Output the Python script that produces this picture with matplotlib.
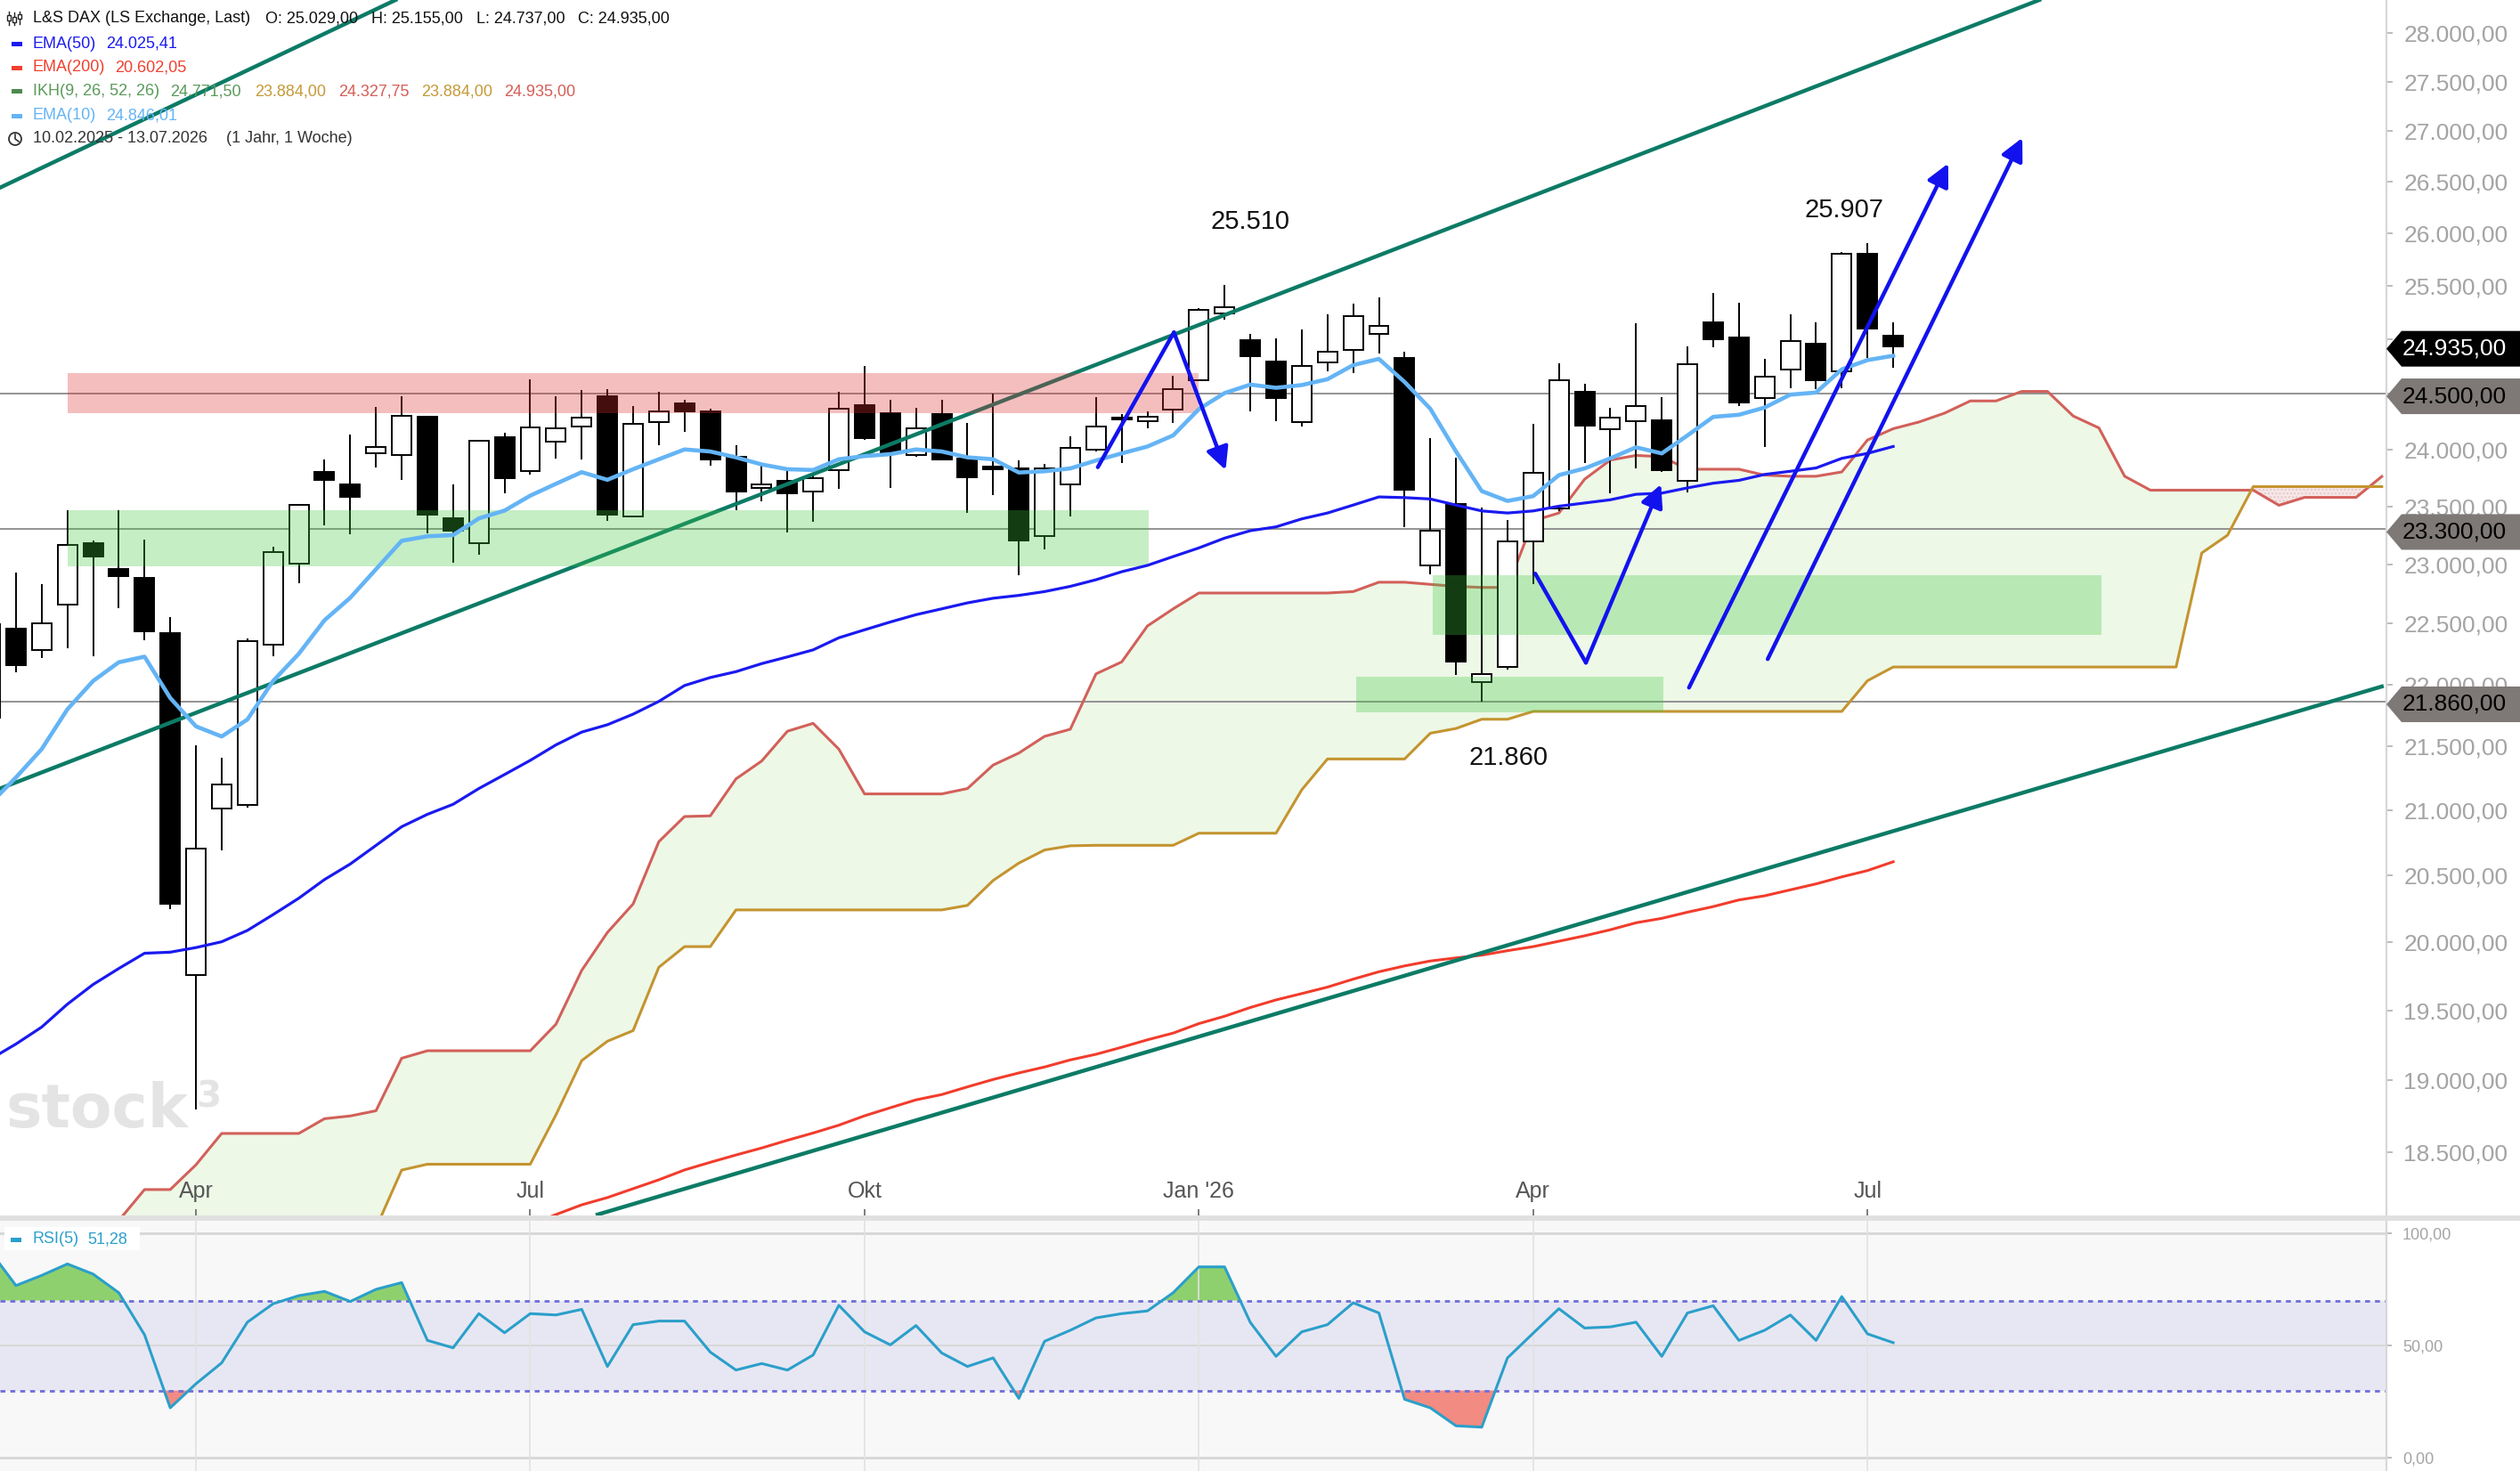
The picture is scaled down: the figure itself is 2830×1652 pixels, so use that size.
import numpy as np
import matplotlib
matplotlib.use('Agg')
import matplotlib.pyplot as plt
from matplotlib.patches import Rectangle, Polygon, Circle
from matplotlib.lines import Line2D
from matplotlib.transforms import IdentityTransform
from matplotlib.ticker import NullLocator, NullFormatter

plt.rcParams['font.family'] = ['Liberation Sans', 'DejaVu Sans']

# ------------------------------------------------------------------
# Wochenkerzen L&S DAX, Index 0 = Woche 10.02.2025, 74 = 13.07.2026
opens = [21732, 22462, 22283, 22660, 23180, 22962, 22884, 22420, 19757, 21012,
         21042, 22329, 23008, 23803, 23694, 23968, 23946, 24290, 23394, 23180,
         24108, 23806, 24069, 24200, 24475, 23414, 24240, 24408, 24337, 23936,
         23663, 23718, 23626, 23814, 24397, 24327, 23946, 24312, 23922, 23847,
         23835, 23243, 23692, 23999, 24284, 24248, 24355, 24625, 25240, 24989,
         24795, 24240, 24788, 24898, 25044, 24826, 22988, 23520, 22016, 22142,
         23196, 23477, 24518, 24178, 24248, 24259, 23718, 25155, 25015, 24463,
         24721, 24960, 24704, 25800, 25029]
highs = [22650, 22932, 22829, 23462, 23201, 23462, 23214, 22556, 21513, 21413,
         22380, 23151, 23523, 23907, 24133, 24379, 24475, 24301, 23694, 24083,
         24150, 24629, 24475, 24534, 24542, 24385, 24518, 24445, 24363, 24035,
         23859, 23806, 23789, 24518, 24751, 24445, 24374, 24445, 24237, 24498,
         23905, 23870, 24114, 24468, 24319, 24337, 24659, 25290, 25510, 25044,
         25007, 25088, 25229, 25328, 25385, 24879, 24099, 23929, 23492, 23383,
         24231, 24780, 24589, 24374, 25144, 24468, 24934, 25427, 25340, 24814,
         25229, 25155, 25823, 25907, 25155]
lows = [21600, 22096, 22213, 22296, 22227, 22627, 22363, 20241, 18799, 20692,
        21020, 22227, 22842, 23336, 23254, 23842, 23733, 23263, 23011, 23078,
        23612, 23780, 23917, 23907, 23371, 23400, 24035, 24159, 23859, 23465,
        23546, 23270, 23364, 23649, 24085, 23660, 23935, 23900, 23441, 23596,
        22904, 23128, 23414, 23980, 23876, 24184, 24237, 24610, 25181, 24337,
        24254, 24204, 24704, 24687, 24869, 23321, 22913, 22078, 21860, 22120,
        22830, 23455, 23876, 23614, 23831, 23800, 23623, 24924, 24390, 24018,
        24553, 24542, 24550, 24822, 24737]
closes = [22496, 22154, 22504, 23167, 23069, 22899, 22438, 20283, 20706, 21198,
          22353, 23108, 23509, 23733, 23582, 24018, 24296, 23425, 23288, 24074,
          23747, 24195, 24185, 24287, 23425, 24231, 24337, 24337, 23912, 23626,
          23692, 23614, 23747, 24366, 24099, 23972, 24187, 23912, 23753, 23824,
          23201, 23835, 24010, 24201, 24266, 24295, 24542, 25273, 25295, 24845,
          24463, 24751, 24879, 25211, 25124, 23640, 23288, 22184, 22081, 23196,
          23789, 24625, 24212, 24284, 24385, 23814, 24769, 24997, 24416, 24654,
          24979, 24625, 25799, 25097, 24935]

ema10 = [21050, 21255, 21479, 21798, 22028, 22181, 22227, 21890, 21661, 21580,
         21716, 22028, 22251, 22529, 22717, 22958, 23201, 23240, 23250, 23394,
         23462, 23592, 23696, 23798, 23731, 23824, 23912, 23999, 23981, 23929,
         23866, 23824, 23817, 23912, 23940, 23957, 23999, 23981, 23929, 23912,
         23795, 23806, 23831, 23901, 23964, 24025, 24124, 24360, 24505, 24582,
         24553, 24578, 24631, 24760, 24817, 24606, 24363, 23981, 23632, 23546,
         23588, 23772, 23831, 23920, 24018, 23964, 24124, 24290, 24309, 24374,
         24491, 24510, 24721, 24806, 24846.01]
ema50 = [19150, 19258, 19379, 19544, 19687, 19804, 19916, 19924, 19958, 20001,
         20085, 20203, 20326, 20467, 20585, 20727, 20871, 20967, 21045, 21168,
         21278, 21390, 21513, 21615, 21674, 21759, 21862, 21991, 22056, 22104,
         22170, 22225, 22283, 22383, 22449, 22514, 22575, 22624, 22674, 22713,
         22737, 22769, 22813, 22869, 22937, 22991, 23066, 23140, 23224, 23288,
         23321, 23390, 23441, 23510, 23581, 23575, 23563, 23510, 23459, 23441,
         23459, 23500, 23528, 23556, 23604, 23614, 23660, 23701, 23726, 23778,
         23806, 23835, 23920, 23964, 24025.41]
ema200_start = 21
ema200 = [18010, 18080, 18145, 18194, 18254, 18314, 18381, 18433, 18483, 18531,
          18584, 18634, 18688, 18753, 18809, 18864, 18901, 18955, 19007, 19053,
          19095, 19145, 19185, 19235, 19288, 19336, 19404, 19457, 19520, 19575,
          19621, 19668, 19726, 19780, 19823, 19859, 19882, 19902, 19935, 19965,
          20005, 20045, 20090, 20142, 20175, 20221, 20263, 20313, 20344, 20389,
          20434, 20487, 20535, 20602.05]

# Ichimoku-Wolke (26 Wochen voraus), Index 4..93
ikh_start = 4
senkou_a = [17830, 18040, 18248, 18248, 18416, 18631, 18631, 18631, 18631, 18733,
            18752, 18788, 19157, 19210, 19210, 19210, 19210, 19210, 19400, 19790,
            20070, 20283, 20756, 20950, 20955, 21244, 21385, 21622, 21685, 21479,
            21126, 21126, 21126, 21126, 21168, 21353, 21448, 21581, 21638, 22086,
            22184, 22481, 22624, 22757, 22757, 22757, 22757, 22757, 22757, 22769,
            22848, 22848, 22830, 22813, 22804, 22804, 23374, 23441, 23736, 23905,
            23946, 23935, 23824, 23824, 23824, 23772, 23762, 23762, 23800, 24083,
            24184, 24244, 24324, 24434, 24434, 24520, 24520, 24298, 24191, 23762,
            23640, 23640, 23640, 23640, 23640, 23508, 23577, 23577, 23577, 23760]
# die ersten Werte liegen unterhalb des sichtbaren Bereichs
senkou_b = [17500, 17500, 17500, 17500, 17500, 17500, 17500, 17500, 17500, 17500,
            17700, 17990, 18380, 18420, 18420, 18420, 18420, 18420, 18760, 19140,
            19278, 19354, 19813, 19965, 19965, 20238, 20238, 20238, 20238, 20238,
            20238, 20238, 20238, 20238, 20272, 20460, 20592, 20692, 20724, 20728,
            20728, 20728, 20728, 20821, 20821, 20821, 20821, 21158, 21401, 21401,
            21401, 21401, 21606, 21644, 21718, 21718, 21781, 21781, 21781, 21781,
            21781, 21781, 21781, 21781, 21781, 21781, 21781, 21781, 21781, 22030,
            22142, 22142, 22142, 22142, 22142, 22142, 22142, 22142, 22142, 22142,
            22142, 22142, 23097, 23249, 23671, 23671, 23671, 23671, 23671, 23671]

rsi5 = [92, 76.7, 81.2, 86.3, 81.8, 73.5, 54.8, 22.3, 33.0, 42.3,
        60.4, 68.6, 72.2, 74.1, 69.6, 75.0, 78.0, 52.3, 49.0, 64.2,
        55.7, 64.2, 63.6, 66.1, 40.7, 59.3, 60.9, 60.9, 47.1, 39.1,
        42.0, 39.1, 45.8, 67.9, 56.1, 50.3, 58.9, 46.7, 40.7, 44.5,
        26.5, 51.9, 56.8, 62.3, 64.2, 65.4, 73.5, 85.0, 85.0, 60.3,
        45.2, 56.1, 59.3, 69.0, 64.5, 26.1, 22.3, 14.3, 13.7, 44.5,
        55.5, 66.4, 57.8, 58.3, 60.4, 45.2, 64.5, 67.7, 52.3, 56.8,
        63.6, 52.3, 71.8, 55.2, 51.28]

tick_weeks = [8, 21, 34, 47, 60, 73]
tick_names = ['Apr', 'Jul', 'Okt', "Jan '26", 'Apr', 'Jul']
price_ticks = [18500, 19000, 19500, 20000, 20500, 21000, 21500, 22000, 22500, 23000,
               23500, 24000, 24500, 25000, 25500, 26000, 26500, 27000, 27500, 28000]
hidden_ticks = [24500, 25000]   # von den Kursmarken verdeckt
levels = [24500, 23300, 21860]

# Zonen: (x von, x bis, Kurs unten, Kurs oben)
red_zone = (3.0, 47.0, 24324, 24683)
green_zones = [(3.0, 45.05, 22986, 23462),
               (56.1, 82.1, 22409, 22911),
               (53.1, 65.06, 21773, 22061)]
# Trendlinien (Woche, Kurs)
trend_lines = [((0.38, 21168), (79.68, 28343)),
               ((0.38, 26441), (15.76, 28343)),
               ((23.62, 18080), (93.0, 21983))]
# eingezeichnete blaue Pfeile
arrow_paths = [[(43.07, 23842), (46.03, 25062), (48.04, 23817)],
               [(60.08, 22921), (62.05, 22178), (64.97, 23691)],
               [(66.06, 21974), (76.14, 26679)],
               [(69.12, 22207), (79.02, 26933)]]
marks = [('25.510', 49.0, 26113), ('25.907', 72.1, 26221), ('21.860', 59.05, 21412)]
ikh_values = [('24.771,50', '#5a9a5a'), ('23.884,00', '#c49a38'), ('24.327,75', '#d65c55'),
              ('23.884,00', '#c49a38'), ('24.935,00', '#d65c55')]


def fmt(v):
    return f"{v:,.2f}".replace(',', 'X').replace('.', ',').replace('X', '.')


# ------------------------------------------------------------------
W, H = 2830, 1652
fig = plt.figure(figsize=(W / 100, H / 100), dpi=100, facecolor='white')
ax = fig.add_axes([0, 1 - 1366 / H, 2680 / W, 1366 / H])
ax_r = fig.add_axes([0, 0, 2680 / W, (H - 1371) / H])

x = np.arange(len(closes))
o, hi, lo, c = map(np.array, (opens, highs, lows, closes))

# Wolke
xi = np.arange(ikh_start, ikh_start + len(senkou_a))
sa, sb = np.array(senkou_a), np.array(senkou_b)
ax.fill_between(xi, sa, sb, where=sa >= sb, interpolate=True, color='#edf8e7', lw=0, zorder=1)
ax.fill_between(xi, sa, sb, where=sa < sb, interpolate=True, facecolor='#f7e6e6',
                edgecolor='#e2caca', hatch='....', lw=0, zorder=1)
ax.plot(xi, sa, color='#d2605a', lw=2.2, zorder=2)
ax.plot(xi, sb, color='#c49430', lw=2.2, zorder=2)

# Horizontale Marken
for lv in levels:
    ax.axhline(lv, color='#8a8a8a', lw=1.3, zorder=1.5)

# EMA200
ax.plot(np.arange(ema200_start, ema200_start + len(ema200)), ema200, color='#f23c2c', lw=2.2, zorder=2)

# Kerzen
ax.vlines(x, lo, hi, color='black', lw=1.4, zorder=3)
ax.bar(x, np.maximum(np.abs(c - o), 1), bottom=np.minimum(o, c), width=0.76,
       color=np.where(c >= o, 'white', 'black'), edgecolor='black', linewidth=1.4, zorder=3.1)

# Trendlinien
for p0, p1 in trend_lines:
    ax.plot([p0[0], p1[0]], [p0[1], p1[1]], color='#0c7b66', lw=3.2, zorder=3.3)

# Zonen
x0, x1, y0, y1 = red_zone
ax.add_patch(Rectangle((x0, y0), x1 - x0, y1 - y0, fc=(0.87, 0.19, 0.19), alpha=0.31, ec='none', zorder=3.5))
for x0, x1, y0, y1 in green_zones:
    ax.add_patch(Rectangle((x0, y0), x1 - x0, y1 - y0, fc=(0.25, 0.78, 0.25), alpha=0.3, ec='none', zorder=3.5))

# EMA 50 / 10
ax.plot(x, ema50, color='#1a1af0', lw=2.3, zorder=4)
ax.plot(x, ema10, color='#64b4f5', lw=3.3, zorder=4.1)

# Pfeile
arrow_blue = '#1212ee'
for path in arrow_paths:
    xs, ys = zip(*path)
    if len(path) > 2:
        ax.plot(xs[:-1], ys[:-1], color=arrow_blue, lw=3.2, zorder=5, solid_capstyle='round')
    ax.annotate('', xy=path[-1], xytext=path[-2],
                arrowprops=dict(arrowstyle='-|>', color=arrow_blue, lw=3.2,
                                mutation_scale=38, shrinkA=0, shrinkB=0), zorder=5)

for s, mx, my in marks:
    ax.text(mx, my, s, ha='center', va='center', fontsize=21, color='#111111', zorder=6)

# Wasserzeichen
ax.text(7 / 2680, 100 / 1366, 'stock', transform=ax.transAxes, fontsize=49, fontweight='bold',
        family='DejaVu Sans', color='#e4e4e4', va='baseline', ha='left', zorder=0.5)
ax.text(220 / 2680, 122 / 1366, '3', transform=ax.transAxes, fontsize=29, fontweight='bold',
        family='DejaVu Sans', color='#e4e4e4', va='baseline', ha='left', zorder=0.5)

# Achsen
ax.set_yscale('log')
ax.set_xlim(0.38, 93.18)
ax.set_ylim(18068, 28343)
ax.yaxis.tick_right()
ax.set_yticks(price_ticks)
ax.set_yticklabels(['' if v in hidden_ticks else fmt(v) for v in price_ticks])
ax.yaxis.set_minor_locator(NullLocator())
ax.yaxis.set_minor_formatter(NullFormatter())
ax.tick_params(axis='y', direction='out', length=5, width=1.2, color='#b0b0b0',
               labelcolor='#a4a4a4', labelsize=19, pad=9)
ax.set_xticks(tick_weeks)
ax.set_xticklabels(tick_names)
ax.tick_params(axis='x', direction='in', length=6, width=1.2, color='#666666',
               labelcolor='#555555', labelsize=18, pad=-29)
for sp in ['top', 'left', 'bottom']:
    ax.spines[sp].set_visible(False)
ax.spines['right'].set_color('#d8d8d8')
ax.spines['right'].set_linewidth(1.6)

# RSI
rsi = np.array(rsi5)
ax_r.set_facecolor('#f8f8f8')
ax_r.axhspan(30, 70, color='#e7e7f3', zorder=0.5, lw=0)
ax_r.fill_between(x, rsi, 70, where=rsi > 70, interpolate=True, color='#8fd06e', lw=0, zorder=1)
ax_r.fill_between(x, rsi, 30, where=rsi < 30, interpolate=True, color='#f28b82', lw=0, zorder=1)
for lv in (70, 30):
    ax_r.axhline(lv, color='#6e6ed8', lw=2.0, ls=(0, (2, 2)), zorder=2)
for lv, w in ((100, 2.0), (50, 1.3), (0, 2.0)):
    ax_r.axhline(lv, color='#d6d6d6', lw=w, zorder=0.8)
ax_r.plot(x, rsi, color='#2b9fca', lw=2.2, zorder=3)
ax_r.set_xlim(0.38, 93.18)
ax_r.set_ylim(-5.8, 105.5)
ax_r.set_xticks(tick_weeks)
ax_r.tick_params(axis='x', length=0, labelbottom=False)
ax_r.grid(axis='x', color='#e2e2e2', lw=1.2)
ax_r.yaxis.tick_right()
ax_r.set_yticks([0, 50, 100])
ax_r.set_yticklabels([fmt(v) for v in (0, 50, 100)])
ax_r.tick_params(axis='y', direction='out', length=4, width=1.2, color='#b0b0b0',
                 labelcolor='#a4a4a4', labelsize=13, pad=9)
for sp in ['top', 'left', 'bottom']:
    ax_r.spines[sp].set_visible(False)
ax_r.spines['right'].set_color('#d8d8d8')
ax_r.spines['right'].set_linewidth(1.6)

# Trennbalken zwischen den Panels
fig.add_artist(Rectangle((0, H - 1371), W, 6, transform=IdentityTransform(), fc='#e0e0e0', ec='none', zorder=5))


# Kursmarken rechts
def price_tag(value, face, txt):
    yd = ax.transData.transform((0, value))[1] - 3
    pts = [(2680, yd), (2697, yd + 20), (W, yd + 20), (W, yd - 20), (2697, yd - 20)]
    fig.add_artist(Polygon(pts, closed=True, transform=IdentityTransform(), fc=face, ec='none', zorder=10))
    fig.text(2698 / W, yd / H, fmt(value), color=txt, fontsize=19, va='center', ha='left', zorder=11)


price_tag(closes[-1], 'black', 'white')
for lv in levels:
    price_tag(lv, '#7e7977', 'black')


# Legende oben links
def ftext(xp, yp, s, color, size=13):
    fig.text(xp / W, 1 - yp / H, s, color=color, fontsize=size, va='center', ha='left', zorder=12)


def fmark(yp, color):
    fig.add_artist(Rectangle((13 / W, 1 - (yp + 2.5) / H), 12 / W, 5 / H,
                             transform=fig.transFigure, fc=color, ec='none', zorder=12))


rows = [20.7, 49.3, 76.0, 102.7, 130.0, 156.0]
ftext(36.7, rows[0], 'L&S DAX (LS Exchange, Last)', '#111111')
ftext(298, rows[0], 'O: ' + fmt(opens[-1]), '#111111')
ftext(417, rows[0], 'H: ' + fmt(highs[-1]), '#111111')
ftext(535, rows[0], 'L: ' + fmt(lows[-1]), '#111111')
ftext(649, rows[0], 'C: ' + fmt(closes[-1]), '#111111')
for xx, y_top, y_bot, b_top, b_bot in ((10, 13, 28, 17, 23), (16, 14, 28, 19, 25), (22, 13, 27, 16, 21)):
    fig.add_artist(Line2D([xx, xx], [H - y_top, H - y_bot], transform=IdentityTransform(), color='#222', lw=1.0))
    fig.add_artist(Rectangle((xx - 2, H - b_bot), 4, b_bot - b_top, transform=IdentityTransform(),
                             fc='white', ec='#222', lw=1.0, zorder=12))

fmark(rows[1], '#1a1af0')
ftext(36.7, rows[1], 'EMA(50)', '#1a1af0')
ftext(119, rows[1], fmt(ema50[-1]), '#1a1af0')
fmark(rows[2], '#f0402f')
ftext(36.7, rows[2], 'EMA(200)', '#f0402f')
ftext(129, rows[2], fmt(ema200[-1]), '#f0402f')
fmark(rows[3], '#4d8a4d')
ftext(36.7, rows[3], 'IKH(9, 26, 52, 26)', '#5a9a5a')
for (s, col), xx in zip(ikh_values, (191, 286, 380, 473, 566)):
    ftext(xx, rows[3], s, col)
fmark(rows[4], '#64b4f5')
ftext(36.7, rows[4], 'EMA(10)', '#64b4f5')
ftext(119, rows[4], fmt(ema10[-1]), '#64b4f5')
fig.add_artist(Circle((17, H - rows[5]), 7, transform=IdentityTransform(), fill=False, ec='#333', lw=1.3, zorder=12))
fig.add_artist(Line2D([17, 17, 21], [H - rows[5] + 5, H - rows[5], H - rows[5] - 3],
                      transform=IdentityTransform(), color='#333', lw=1.2))
ftext(36.7, rows[5], '10.02.2025 - 13.07.2026', '#333333')
ftext(254, rows[5], '(1 Jahr, 1 Woche)', '#333333')

# RSI-Legende
fig.add_artist(Rectangle((4.5, H - 1404), 152, 26, transform=IdentityTransform(), fc='white', ec='none', zorder=12))
fig.add_artist(Rectangle((12, H - 1395), 12, 5, transform=IdentityTransform(), fc='#2b9fca', ec='none', zorder=13))
ftext(36, 1392, 'RSI(5)', '#2b9fca')
ftext(98, 1392, fmt(rsi5[-1]), '#2b9fca')

fig.savefig('out.png', dpi=100, facecolor='white')
